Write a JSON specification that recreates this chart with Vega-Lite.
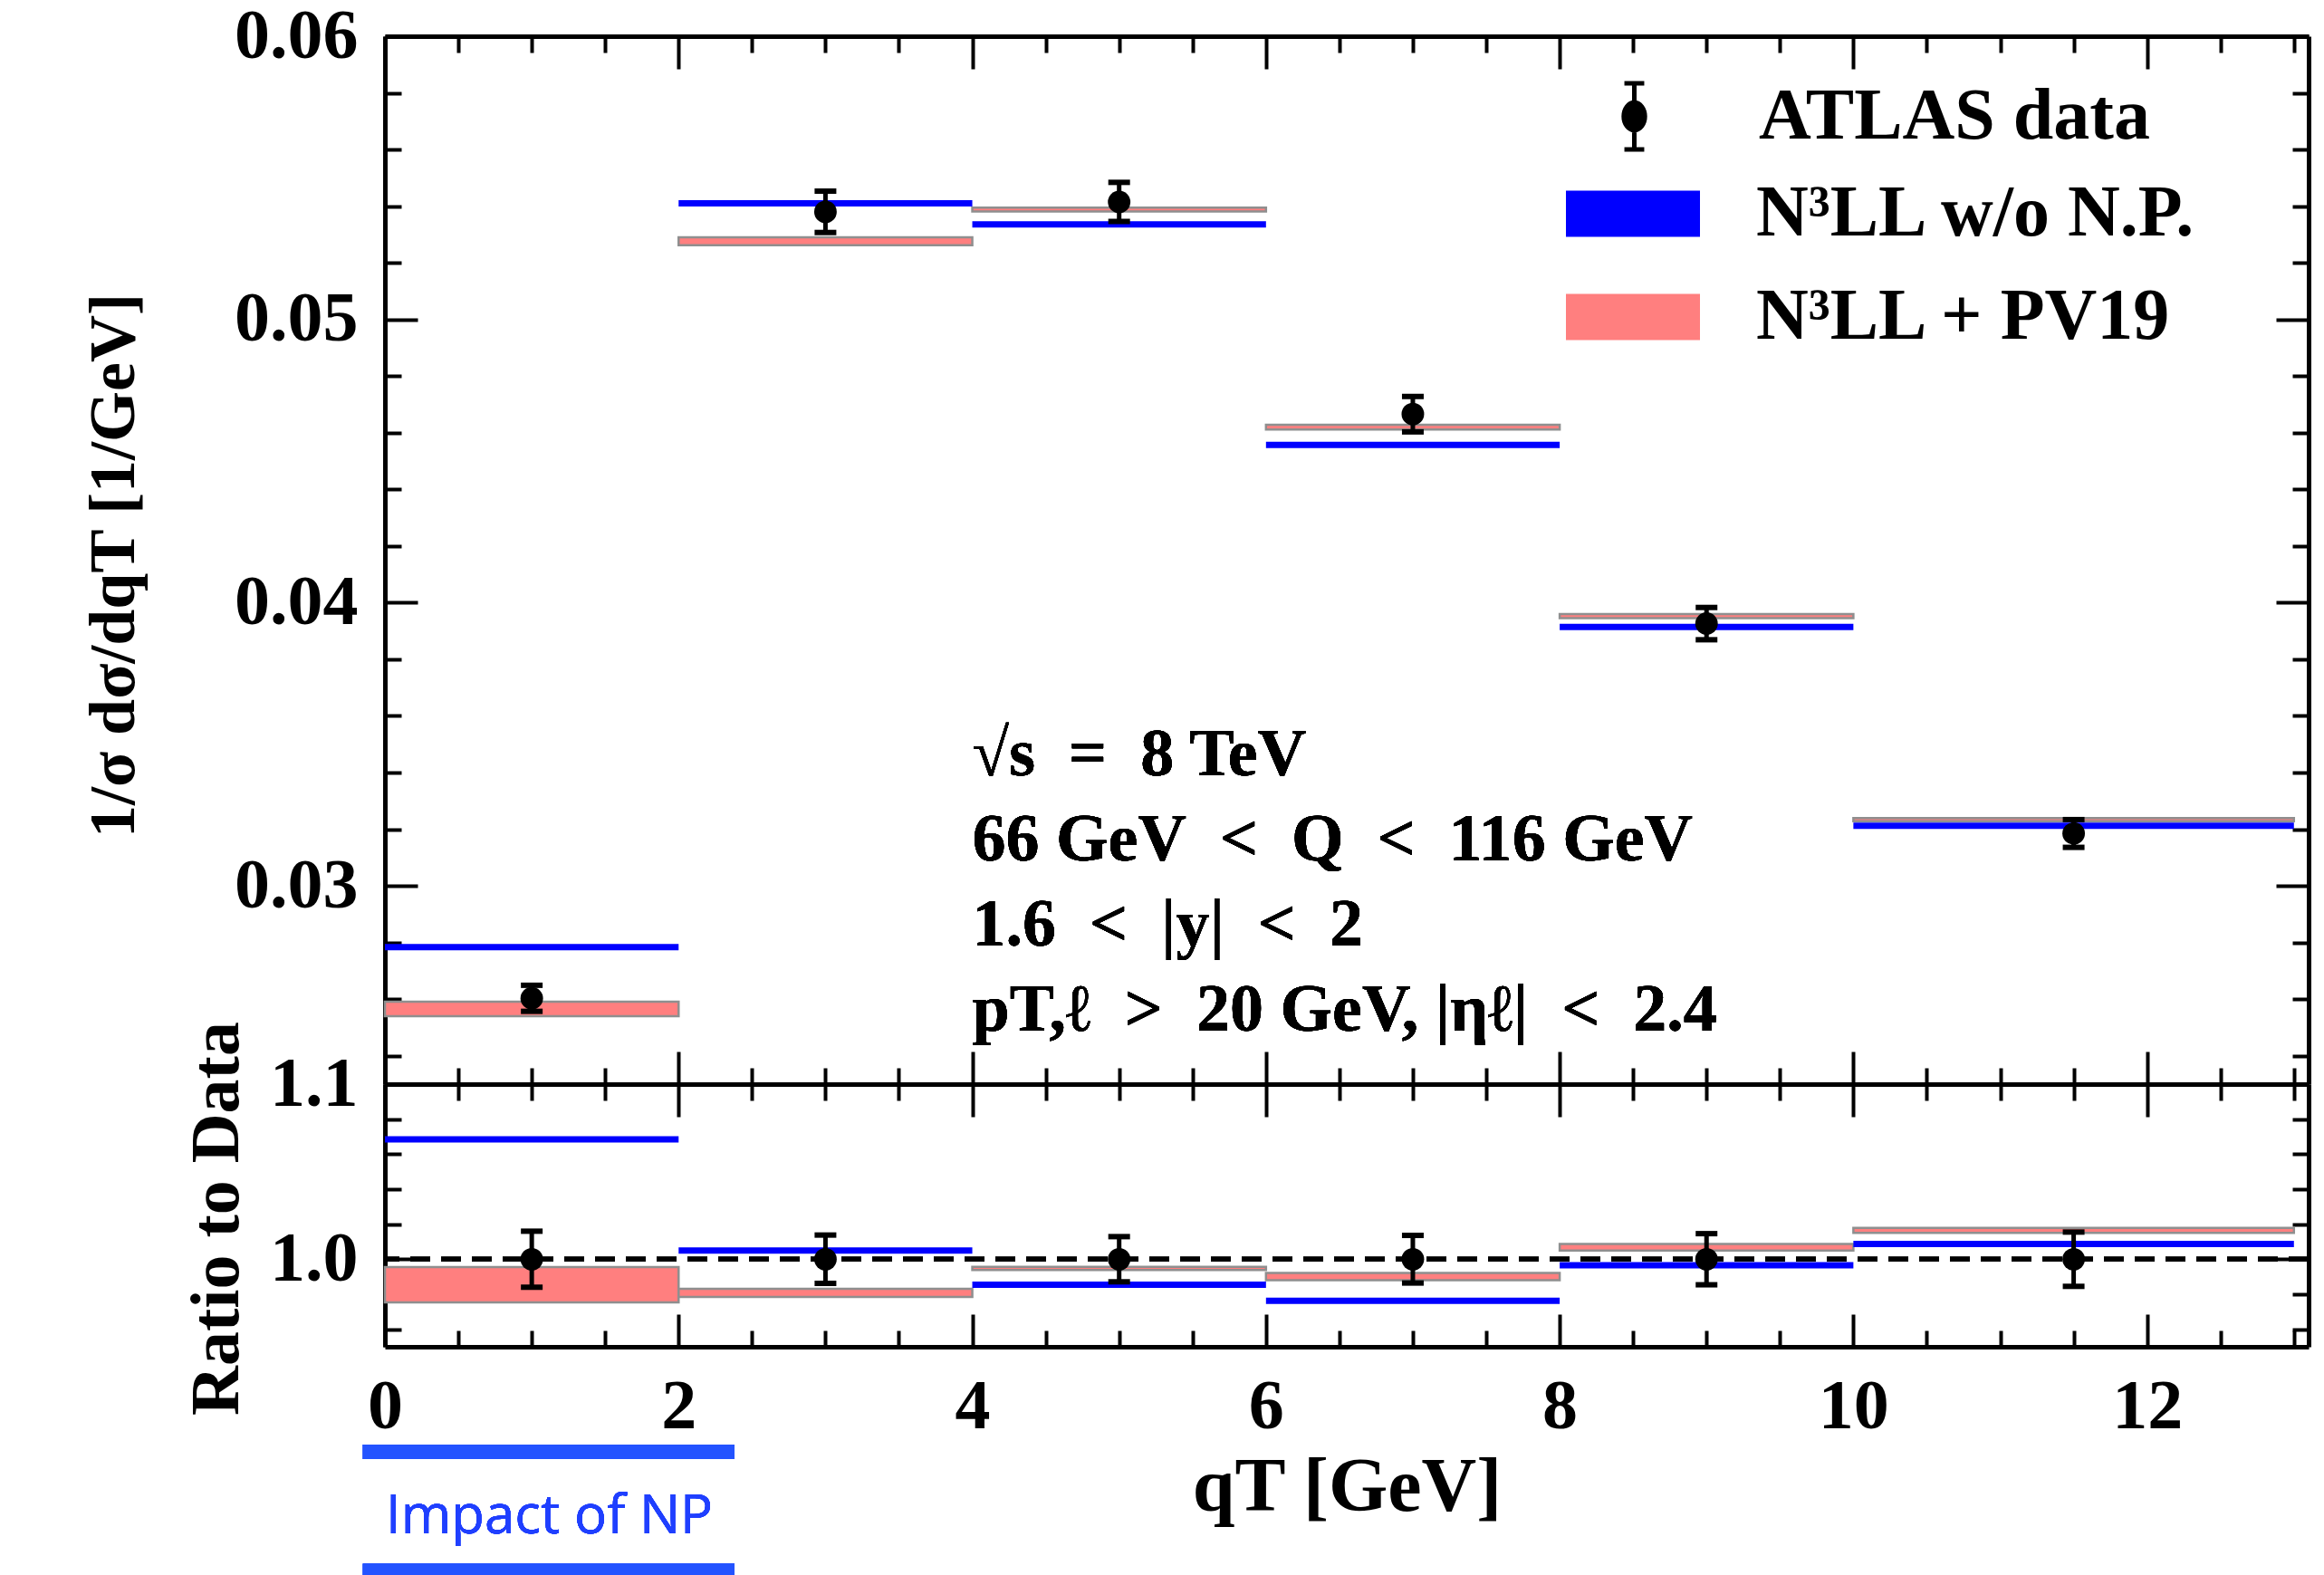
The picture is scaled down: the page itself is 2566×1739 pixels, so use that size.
{
  "$schema": "https://vega.github.io/schema/vega-lite/v6.json",
  "background": "white",
  "padding": {"left": 89, "top": 1, "right": 0, "bottom": 0},
  "bounds": "flush",
  "spacing": 0,
  "datasets": {
    "bins": [
      {"x0": 0, "x1": 2, "xc": 1, "data": 0.02603, "lo": 0.02557, "hi": 0.02649, "blue": 0.02784, "redlo": 0.0254, "redhi": 0.02591, "rdata": 1, "rlo": 0.984, "rhi": 1.016, "rblue": 1.0685, "rredlo": 0.9753, "rredhi": 0.9955},
      {"x0": 2, "x1": 4, "xc": 3, "data": 0.0538, "lo": 0.05307, "hi": 0.05453, "blue": 0.0541, "redlo": 0.05262, "redhi": 0.0529, "rdata": 1, "rlo": 0.9862, "rhi": 1.0138, "rblue": 1.005, "rredlo": 0.9784, "rredhi": 0.9831},
      {"x0": 4, "x1": 6, "xc": 5, "data": 0.05415, "lo": 0.05346, "hi": 0.05484, "blue": 0.05336, "redlo": 0.05381, "redhi": 0.05395, "rdata": 1, "rlo": 0.9871, "rhi": 1.0129, "rblue": 0.9854, "rredlo": 0.9938, "rredhi": 0.9957},
      {"x0": 6, "x1": 8, "xc": 7, "data": 0.04666, "lo": 0.04603, "hi": 0.04728, "blue": 0.04557, "redlo": 0.04611, "redhi": 0.04628, "rdata": 1, "rlo": 0.9864, "rhi": 1.0136, "rblue": 0.9763, "rredlo": 0.988, "rredhi": 0.9922},
      {"x0": 8, "x1": 10, "xc": 9, "data": 0.03926, "lo": 0.03869, "hi": 0.03983, "blue": 0.03914, "redlo": 0.03945, "redhi": 0.0396, "rdata": 1, "rlo": 0.9854, "rhi": 1.0146, "rblue": 0.9965, "rredlo": 1.005, "rredhi": 1.0087},
      {"x0": 10, "x1": 13, "xc": 11.5, "data": 0.03185, "lo": 0.03136, "hi": 0.03234, "blue": 0.03212, "redlo": 0.03228, "redhi": 0.03239, "rdata": 1, "rlo": 0.9845, "rhi": 1.0155, "rblue": 1.0087, "rredlo": 1.015, "rredhi": 1.0179}
    ]
  },
  "resolve": {"scale": {"color": "independent", "stroke": "independent"}, "legend": {"color": "independent", "stroke": "independent"}},
  "vconcat": [
    {
      "width": 2124,
      "height": 1157,
      "data": {"name": "bins"},
      "resolve": {"axis": {"x": "independent", "y": "independent"}},
      "layer": [
        {
          "mark": {"type": "rect", "stroke": "#8f8f8f", "strokeWidth": 2.5},
          "encoding": {
            "x": {"field": "x0", "type": "quantitative", "scale": {"domain": [0, 13.1], "nice": false, "zero": false},
                  "axis": {"orient": "bottom", "values": [0, 2, 4, 6, 8, 10, 12], "tickSize": -36, "labels": false, "title": null}},
            "x2": {"field": "x1"},
            "y": {"field": "redlo", "type": "quantitative", "scale": {"domain": [0.023, 0.06], "nice": false, "zero": false},
                  "axis": {"orient": "left", "values": [0.03, 0.04, 0.05, 0.06], "tickSize": -36, "labelPadding": 66, "format": ".2f",
                           "title": "1/σ dσ/dqT [1/GeV]", "titleFontSize": 72, "titleAngle": 270, "titleX": -300, "titleY": 584,
                           "titleAlign": "center", "titleBaseline": "middle"}},
            "y2": {"field": "redhi"},
            "color": {"datum": "N³LL + PV19", "type": "nominal",
                      "scale": {"domain": ["N³LL w/o N.P.", "N³LL + PV19"], "range": ["blue", "#ff7f7f"]},
                      "legend": {
                        "orient": "none", "legendX": 1304, "legendY": 122, "title": null, "padding": 0, "rowPadding": 0,
                        "labelOffset": 62, "labelFont": "Liberation Serif", "labelFontSize": 80, "labelFontWeight": "bold",
                        "labelColor": "black", "labelLimit": 1200, "symbolSize": 21316,
                        "symbolType": "M-1,-0.336L1,-0.336L1,0.336L-1,0.336Z",
                        "symbolStrokeColor": "#8f8f8f", "symbolStrokeWidth": 2, "symbolOpacity": 1
                      }}
          }
        },
        {
          "mark": {"type": "rule", "strokeWidth": 7},
          "encoding": {
            "x": {"field": "x0", "type": "quantitative",
                  "axis": {"orient": "bottom", "values": [0.5, 1, 1.5, 2.5, 3, 3.5, 4.5, 5, 5.5, 6.5, 7, 7.5, 8.5, 9, 9.5, 10.5, 11, 11.5, 12.5, 13], "tickSize": -18, "labels": false, "domain": false, "title": null}},
            "x2": {"field": "x1"},
            "y": {"field": "blue", "type": "quantitative",
                  "axis": {"orient": "left", "values": [0.024, 0.026, 0.028, 0.032, 0.034, 0.036, 0.038, 0.042, 0.044, 0.046, 0.048, 0.052, 0.054, 0.056, 0.058], "tickSize": -18, "labels": false, "domain": false, "title": null}},
            "color": {"datum": "N³LL w/o N.P.", "type": "nominal"}
          }
        },
        {
          "mark": {"type": "rule", "strokeWidth": 5, "color": "black"},
          "encoding": {
            "x": {"field": "xc", "type": "quantitative",
                  "axis": {"orient": "top", "values": [0, 2, 4, 6, 8, 10, 12], "tickSize": -36, "labels": false, "title": null}},
            "y": {"field": "lo", "type": "quantitative",
                  "axis": {"orient": "right", "values": [0.03, 0.04, 0.05, 0.06], "tickSize": -36, "labels": false, "title": null}},
            "y2": {"field": "hi"},
            "stroke": {"datum": "ATLAS data", "type": "nominal",
                       "scale": {"domain": ["ATLAS data"], "range": ["black"]},
                       "legend": {
                         "orient": "none", "legendX": 1304, "legendY": 13, "title": null, "padding": 0,
                         "labelOffset": 62, "labelFont": "Liberation Serif", "labelFontSize": 80, "labelFontWeight": "bold",
                         "labelColor": "black", "labelLimit": 1200, "symbolSize": 21316,
                         "symbolType": "M0,-0.5L0,0.5M-0.15,-0.5L0.15,-0.5M-0.15,0.5L0.15,0.5M-0.16,0A0.16,0.21,0,1,0,0.16,0A0.16,0.21,0,1,0,-0.16,0Z",
                         "symbolStrokeWidth": 5, "symbolFillColor": "black", "symbolOpacity": 1
                       }}
          }
        },
        {
          "mark": {"type": "tick", "orient": "horizontal", "size": 24, "thickness": 6, "color": "black", "opacity": 1},
          "encoding": {
            "x": {"field": "xc", "type": "quantitative",
                  "axis": {"orient": "top", "values": [0.5, 1, 1.5, 2.5, 3, 3.5, 4.5, 5, 5.5, 6.5, 7, 7.5, 8.5, 9, 9.5, 10.5, 11, 11.5, 12.5, 13], "tickSize": -18, "labels": false, "domain": false, "title": null}},
            "y": {"field": "lo", "type": "quantitative",
                  "axis": {"orient": "right", "values": [0.024, 0.026, 0.028, 0.032, 0.034, 0.036, 0.038, 0.042, 0.044, 0.046, 0.048, 0.052, 0.054, 0.056, 0.058], "tickSize": -18, "labels": false, "domain": false, "title": null}}
          }
        },
        {
          "mark": {"type": "tick", "orient": "horizontal", "size": 24, "thickness": 6, "color": "black", "opacity": 1},
          "encoding": {
            "x": {"field": "xc", "type": "quantitative", "axis": null},
            "y": {"field": "hi", "type": "quantitative", "axis": null}
          }
        },
        {
          "mark": {"type": "point", "filled": true, "shape": "circle", "size": 620, "color": "black", "opacity": 1},
          "encoding": {
            "x": {"field": "xc", "type": "quantitative", "axis": null},
            "y": {"field": "data", "type": "quantitative", "axis": null}
          }
        },
        {
          "mark": {"type": "text", "align": "left", "baseline": "middle", "font": "Liberation Serif", "fontWeight": "bold", "fontSize": 74, "lineHeight": 94, "color": "black"},
          "encoding": {
            "x": {"datum": 4, "type": "quantitative", "axis": null},
            "y": {"datum": 0.0346, "type": "quantitative", "axis": null},
            "text": {"value": ["√s\u2002=\u20028 TeV", "66 GeV\u2002<\u2002Q\u2002<\u2002116 GeV", "1.6\u2002<\u2002|y|\u2002<\u20022", "pT,ℓ\u2002>\u200220 GeV, |ηℓ|\u2002<\u20022.4"]}
          }
        }
      ]
    },
    {
      "width": 2124,
      "height": 290,
      "data": {"name": "bins"},
      "resolve": {"axis": {"x": "independent", "y": "independent"}},
      "layer": [
        {
          "mark": {"type": "rect", "stroke": "#8f8f8f", "strokeWidth": 2.5, "color": "#ff7f7f"},
          "encoding": {
            "x": {"field": "x0", "type": "quantitative", "scale": {"domain": [0, 13.1], "nice": false, "zero": false},
                  "axis": {"orient": "bottom", "values": [0, 2, 4, 6, 8, 10, 12], "tickSize": -36, "labelPadding": 63, "format": "d",
                           "title": "qT [GeV]", "titleFontSize": 84, "titleY": 155, "titleBaseline": "middle"}},
            "x2": {"field": "x1"},
            "y": {"field": "rredlo", "type": "quantitative", "scale": {"domain": [0.95, 1.1], "nice": false, "zero": false},
                  "axis": {"orient": "left", "values": [1.0, 1.1], "tickSize": -36, "labelPadding": 66, "format": ".1f",
                           "title": "Ratio to Data", "titleFontSize": 76, "titleAngle": 270, "titleX": -186, "titleY": 148,
                           "titleAlign": "center", "titleBaseline": "middle"}},
            "y2": {"field": "rredhi"}
          }
        },
        {
          "mark": {"type": "rule", "strokeWidth": 7, "color": "blue"},
          "encoding": {
            "x": {"field": "x0", "type": "quantitative",
                  "axis": {"orient": "bottom", "values": [0.5, 1, 1.5, 2.5, 3, 3.5, 4.5, 5, 5.5, 6.5, 7, 7.5, 8.5, 9, 9.5, 10.5, 11, 11.5, 12.5, 13], "tickSize": -18, "labels": false, "domain": false, "title": null}},
            "x2": {"field": "x1"},
            "y": {"field": "rblue", "type": "quantitative",
                  "axis": {"orient": "left", "values": [0.96, 0.98, 1.02, 1.04, 1.06, 1.08], "tickSize": -18, "labels": false, "domain": false, "title": null}}
          }
        },
        {
          "mark": {"type": "rule", "strokeWidth": 5, "color": "black", "strokeDash": [22, 12]},
          "encoding": {
            "y": {"datum": 1, "type": "quantitative", "axis": null}
          }
        },
        {
          "mark": {"type": "rule", "strokeWidth": 5, "color": "black"},
          "encoding": {
            "x": {"field": "xc", "type": "quantitative",
                  "axis": {"orient": "top", "values": [0, 2, 4, 6, 8, 10, 12], "tickSize": -36, "labels": false, "title": null}},
            "y": {"field": "rlo", "type": "quantitative",
                  "axis": {"orient": "right", "values": [1.0, 1.1], "tickSize": -36, "labels": false, "title": null}},
            "y2": {"field": "rhi"}
          }
        },
        {
          "mark": {"type": "tick", "orient": "horizontal", "size": 24, "thickness": 6, "color": "black", "opacity": 1},
          "encoding": {
            "x": {"field": "xc", "type": "quantitative",
                  "axis": {"orient": "top", "values": [0.5, 1, 1.5, 2.5, 3, 3.5, 4.5, 5, 5.5, 6.5, 7, 7.5, 8.5, 9, 9.5, 10.5, 11, 11.5, 12.5, 13], "tickSize": -18, "labels": false, "domain": false, "title": null}},
            "y": {"field": "rlo", "type": "quantitative",
                  "axis": {"orient": "right", "values": [0.96, 0.98, 1.02, 1.04, 1.06, 1.08], "tickSize": -18, "labels": false, "domain": false, "title": null}}
          }
        },
        {
          "mark": {"type": "tick", "orient": "horizontal", "size": 24, "thickness": 6, "color": "black", "opacity": 1},
          "encoding": {
            "x": {"field": "xc", "type": "quantitative", "axis": null},
            "y": {"field": "rhi", "type": "quantitative", "axis": null}
          }
        },
        {
          "mark": {"type": "point", "filled": true, "shape": "circle", "size": 620, "color": "black", "opacity": 1},
          "encoding": {
            "x": {"field": "xc", "type": "quantitative", "axis": null},
            "y": {"field": "rdata", "type": "quantitative", "axis": null}
          }
        },
        {
          "mark": {"type": "rule", "strokeWidth": 16, "color": "#2453ff", "opacity": 0.9},
          "encoding": {
            "x": {"datum": -0.15, "type": "quantitative", "axis": null},
            "x2": {"datum": 2.38},
            "y": {"datum": 0.89, "type": "quantitative", "axis": null}
          }
        },
        {
          "mark": {"type": "rule", "strokeWidth": 16, "color": "#2453ff", "opacity": 0.9},
          "encoding": {
            "x": {"datum": -0.15, "type": "quantitative", "axis": null},
            "x2": {"datum": 2.38},
            "y": {"datum": 0.822, "type": "quantitative", "axis": null}
          }
        },
        {
          "mark": {"type": "text", "align": "center", "baseline": "middle", "font": "Open Sans", "fontSize": 60, "color": "#1f3fff"},
          "encoding": {
            "x": {"datum": 1.12, "type": "quantitative", "axis": null},
            "y": {"datum": 0.8526, "type": "quantitative", "axis": null},
            "text": {"value": "Impact of NP"}
          }
        }
      ]
    }
  ],
  "config": {
    "view": {"stroke": null},
    "axis": {
      "grid": false, "domainColor": "black", "domainWidth": 5, "tickColor": "black", "tickWidth": 4,
      "labelFont": "Liberation Serif", "labelFontWeight": "bold", "labelFontSize": 78, "labelColor": "black",
      "titleFont": "Liberation Serif", "titleFontWeight": "bold", "titleColor": "black",
      "labelFlush": false, "labelOverlap": false
    }
  }
}
